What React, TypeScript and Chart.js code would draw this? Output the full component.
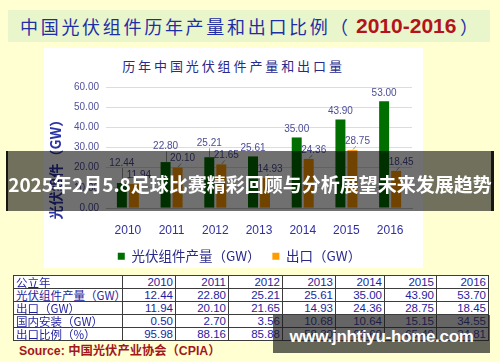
import { useEffect, useRef } from 'react';
import { Chart, registerables } from 'chart.js';

Chart.register(...registerables);

// ---- data ----
const years = ['2010', '2011', '2012', '2013', '2014', '2015', '2016'];
const production = [12.44, 22.8, 25.21, 25.61, 35.0, 43.9, 53.0];
const exportsGW = [11.94, 20.1, 21.65, 14.93, 24.36, 28.75, 18.45];
const yTickValues = [0, 10, 20, 30, 40, 50, 60];

const seriesNames = ['光伏组件产量（GW）', '出口（GW）'];

const tableHeader = '公立年';
const tableRowLabels = ['光伏组件产量（GW）', '出口（GW）', '国内安装（GW）', '出口比例（%）'];
const tableProduction = ['12.44', '22.80', '25.21', '25.61', '35.00', '43.90', '53.70'];
const tableExport = ['11.94', '20.10', '21.65', '14.93', '24.36', '28.75', '18.45'];
const tableDomestic = ['0.50', '2.70', '3.56', '10.68', '10.64', '15.15', '34.55'];
const tableRatio = ['95.98', '88.16', '85.88', '58.30', '69.60', '65.49', '34.81'];

const mainTitle = '中国光伏组件历年产量和出口比例';
const mainTitleYears = '2010-2016';
const chartTitle = '历年中国光伏组件产量和出口量';
const yAxisTitle = '光伏组件（GW）';
const sourceText = 'Source: 中国光伏产业协会（CPIA）';
const bannerText = '2025年2月5.8足球比赛精彩回顾与分析展望未来发展趋势';
const watermarkText = 'www.jnhtiyu-home.com';

const GREEN = '#006f00';
const ORANGE = '#ff9c00';
const CJK = "'Noto Sans CJK SC', sans-serif";
const LATIN = "'Liberation Sans', Arial, 'Noto Sans CJK SC', sans-serif";

const valueLabels = {
  id: 'valueLabels',
  afterDatasetsDraw(chart: any) {
    const ctx = chart.ctx;
    const m0 = chart.getDatasetMeta(0);
    const m1 = chart.getDatasetMeta(1);
    ctx.save();
    ctx.font = "10px 'Liberation Sans', Arial, sans-serif";
    ctx.fillStyle = '#4d4d95';
    ctx.strokeStyle = '#9a9a9a';
    ctx.lineWidth = 1;
    ctx.textAlign = 'center';
    ctx.textBaseline = 'middle';
    m1.data.forEach((bar: any, i: number) => {
      const ey = bar.y - 9;
      const ex = bar.x + 5;
      ctx.beginPath();
      ctx.moveTo(bar.x + 0.5, bar.y - 0.5);
      ctx.lineTo(bar.x + 3.5, bar.y - 4);
      ctx.stroke();
      ctx.fillText(exportsGW[i].toFixed(2), ex, ey);
      const pb = m0.data[i];
      let py = pb.y - 8;
      const lim = ey - 12;
      if (py > lim) {
        py = lim;
        ctx.beginPath();
        ctx.moveTo(Math.round(pb.x) + 0.5, py + 5);
        ctx.lineTo(Math.round(pb.x) + 0.5, pb.y);
        ctx.stroke();
      }
      ctx.fillText(production[i].toFixed(2), pb.x, py);
    });
    ctx.restore();
  },
};

function ChartCanvas() {
  const ref = useRef<HTMLCanvasElement | null>(null);
  useEffect(() => {
    if (!ref.current) return;
    const chart = new Chart(ref.current, {
      type: 'bar',
      data: {
        labels: years,
        datasets: [
          {
            label: seriesNames[0],
            data: production,
            backgroundColor: GREEN,
            categoryPercentage: 0.55,
            barPercentage: 0.83,
          },
          {
            label: seriesNames[1],
            data: exportsGW,
            backgroundColor: ORANGE,
            categoryPercentage: 0.55,
            barPercentage: 0.83,
          },
        ],
      },
      options: {
        animation: false,
        responsive: false,
        layout: { padding: { left: 23, right: 11, top: 39, bottom: 0 } },
        plugins: {
          title: { display: false },
          tooltip: { enabled: false },
          legend: {
            position: 'bottom',
            labels: {
              boxWidth: 7,
              boxHeight: 7,
              padding: 5,
              color: '#2a2a8a',
              font: { family: CJK, size: 13.5 },
              generateLabels(chart: any) {
                const items = Chart.defaults.plugins.legend.labels.generateLabels(chart);
                return items.map((it: any, i: number) => ({
                  ...it,
                  text: i === 0 ? it.text + '\u3000' : it.text,
                  lineWidth: 0,
                }));
              },
            },
          },
        },
        scales: {
          x: {
            grid: { display: false },
            border: { display: true, color: '#c4c4c4' },
            ticks: {
              color: '#3030a0',
              padding: 7,
              font: { family: "'Liberation Sans', Arial, sans-serif", size: 12 },
            },
          },
          y: {
            min: 0,
            max: 60,
            afterBuildTicks(scale: any) {
              scale.ticks = yTickValues.map((v) => ({ value: v }));
            },
            grid: { color: '#dcdcdc', drawTicks: false },
            border: { display: false },
            ticks: {
              padding: 7,
              color: '#50509c',
              font: { family: "'Liberation Sans', Arial, sans-serif", size: 10 },
              callback: (v: any) => Number(v).toFixed(2),
            },
          },
        },
      },
      plugins: [valueLabels],
    } as any);
    return () => chart.destroy();
  }, []);
  return (
    <canvas
      ref={ref}
      width={379}
      height={225}
      style={{ position: 'absolute', left: 44, top: 48, width: 379, height: 225 }}
    />
  );
}

const cell: any = {
  border: '1px solid #3c3c3c',
  height: 12,
  lineHeight: '12px',
  padding: '0 2px 0 2px',
  fontSize: 11.5,
  color: '#1e1e9e',
  background: '#ffffff',
  whiteSpace: 'nowrap',
  overflow: 'hidden',
};

export default function App() {
  const colWidths = [109, 53, 53, 54, 53, 49, 52, 52];
  const rows = [tableProduction, tableExport, tableDomestic, tableRatio];
  return (
    <div
      style={{
        position: 'absolute',
        left: 0,
        top: 0,
        width: 500,
        height: 362,
        background: '#ffffd2',
        overflow: 'hidden',
        fontFamily: LATIN,
      }}
    >
      <div style={{ position: 'absolute', left: 8, top: 10, width: 482, height: 32, background: '#e9f6cc' }} />
      <div
        style={{
          position: 'absolute',
          left: 20,
          top: 10,
          height: 32,
          lineHeight: '32px',
          whiteSpace: 'nowrap',
          color: '#1f2ea6',
          fontFamily: CJK,
          fontSize: 18,
          letterSpacing: 2.7,
        }}
      >
        {mainTitle}
      </div>
      <div
        style={{
          position: 'absolute',
          left: 330,
          top: 10,
          height: 32,
          lineHeight: '32px',
          color: '#1f2ea6',
          fontFamily: CJK,
          fontSize: 18,
        }}
      >
        （
      </div>
      <div
        style={{
          position: 'absolute',
          left: 356,
          top: 10,
          height: 32,
          lineHeight: '32px',
          color: '#b3141c',
          fontFamily: LATIN,
          fontSize: 21,
          fontWeight: 'bold',
          whiteSpace: 'nowrap',
        }}
      >
        {mainTitleYears}
      </div>
      <div
        style={{
          position: 'absolute',
          left: 460,
          top: 10,
          height: 32,
          lineHeight: '32px',
          color: '#1f2ea6',
          fontFamily: CJK,
          fontSize: 18,
        }}
      >
        ）
      </div>

      <div style={{ position: 'absolute', left: 44, top: 48, width: 379, height: 220, background: '#ffffff' }} />
      <div
        style={{
          position: 'absolute',
          left: 44,
          top: 58,
          width: 379,
          height: 16,
          lineHeight: '16px',
          textAlign: 'center',
          fontFamily: CJK,
          fontSize: 13,
          letterSpacing: 2.9,
          color: '#2a2a8c',
          whiteSpace: 'nowrap',
        }}
      >
        {chartTitle}
      </div>
      <ChartCanvas />
      <div
        style={{
          position: 'absolute',
          left: -5,
          top: 158,
          width: 120,
          height: 16,
          lineHeight: '16px',
          textAlign: 'center',
          transform: 'rotate(-90deg)',
          transformOrigin: '60px 8px',
          whiteSpace: 'nowrap',
          fontFamily: CJK,
          fontSize: 14,
          fontWeight: 'bold',
          color: '#2b34a8',
        }}
      >
        {yAxisTitle}
      </div>

      <table
        style={{
          position: 'absolute',
          left: 13,
          top: 275,
          width: 476,
          borderCollapse: 'collapse',
          tableLayout: 'fixed',
        }}
      >
        <colgroup>
          {colWidths.map((w, i) => (
            <col key={i} style={{ width: w }} />
          ))}
        </colgroup>
        <tbody>
          <tr>
            <td style={{ ...cell, fontFamily: CJK, textAlign: 'left' }}>{tableHeader}</td>
            {years.map((y) => (
              <td key={y} style={{ ...cell, textAlign: 'right' }}>
                {y}
              </td>
            ))}
          </tr>
          {rows.map((r, ri) => (
            <tr key={ri}>
              <td style={{ ...cell, fontFamily: CJK, textAlign: 'left' }}>{tableRowLabels[ri]}</td>
              {r.map((v, ci) => (
                <td key={ci} style={{ ...cell, textAlign: 'right' }}>
                  {v}
                </td>
              ))}
            </tr>
          ))}
        </tbody>
      </table>
      <div
        style={{
          position: 'absolute',
          left: 19,
          top: 343,
          height: 16,
          lineHeight: '16px',
          fontSize: 12.3,
          fontWeight: 'bold',
          color: '#a3171c',
          whiteSpace: 'nowrap',
        }}
      >
        {sourceText}
      </div>

      <div
        style={{
          position: 'absolute',
          left: 6,
          top: 151,
          width: 488,
          height: 60,
          boxSizing: 'border-box',
          background: 'rgba(0,0,0,0.56)',
          borderLeft: '2px solid rgba(0,0,0,0.8)',
          borderRight: '3px solid rgba(0,0,0,0.8)',
        }}
      />
      <div
        style={{
          position: 'absolute',
          left: 6,
          top: 154,
          width: 488,
          height: 60,
          lineHeight: '60px',
          textAlign: 'center',
          color: '#ffffff',
          fontFamily: CJK,
          fontWeight: 'bold',
          fontSize: 19,
          whiteSpace: 'nowrap',
        }}
      >
        {bannerText}
      </div>

      <div
        style={{
          position: 'absolute',
          left: 273,
          top: 315,
          width: 217,
          height: 38,
          background: 'rgba(28,28,28,0.68)',
        }}
      />
      <div
        style={{
          position: 'absolute',
          left: 273,
          top: 318,
          width: 217,
          height: 38,
          lineHeight: '38px',
          textAlign: 'center',
          color: '#ffffff',
          fontWeight: 'bold',
          fontSize: 17,
          letterSpacing: -0.3,
          whiteSpace: 'nowrap',
        }}
      >
        {watermarkText}
      </div>
    </div>
  );
}
